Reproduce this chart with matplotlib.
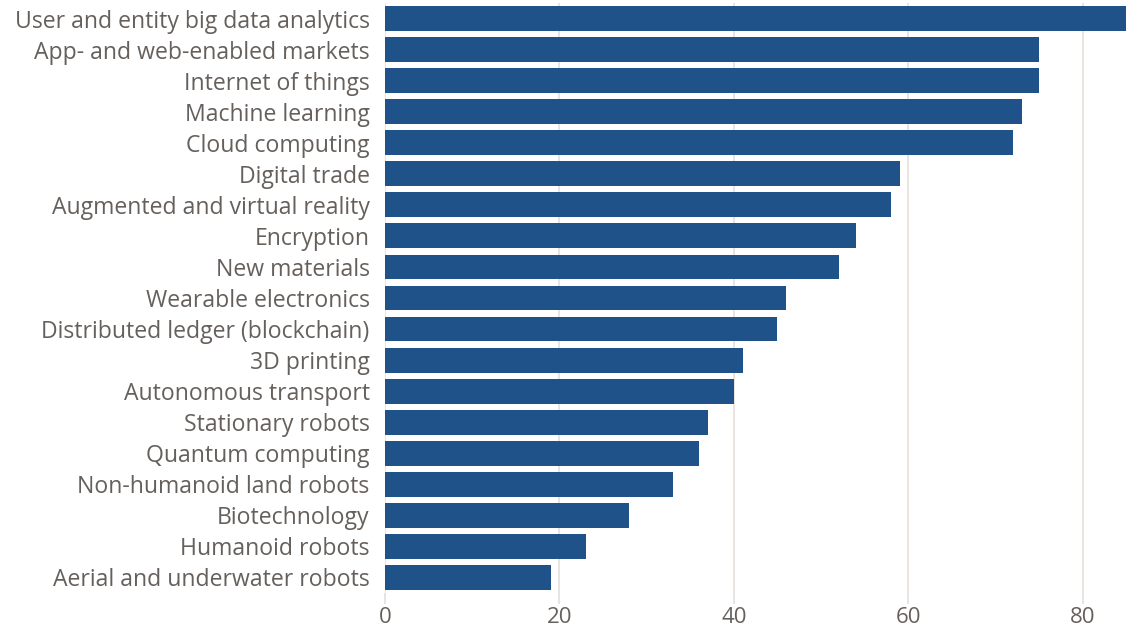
import matplotlib
matplotlib.use("Agg")
import matplotlib.pyplot as plt

categories = [
    "User and entity big data analytics",
    "App- and web-enabled markets",
    "Internet of things",
    "Machine learning",
    "Cloud computing",
    "Digital trade",
    "Augmented and virtual reality",
    "Encryption",
    "New materials",
    "Wearable electronics",
    "Distributed ledger (blockchain)",
    "3D printing",
    "Autonomous transport",
    "Stationary robots",
    "Quantum computing",
    "Non-humanoid land robots",
    "Biotechnology",
    "Humanoid robots",
    "Aerial and underwater robots",
]
values = [85, 75, 75, 73, 72, 59, 58, 54, 52, 46, 45, 41, 40, 37, 36, 33, 28, 23, 19]
xticks = [0, 20, 40, 60, 80]

plt.rcParams['font.family'] = ['Open Sans', 'DejaVu Sans']

fig = plt.figure(figsize=(11.29, 6.34), dpi=100)
ax = fig.add_axes([385/1129, 41/634, 744/1129, 590/634])

n = len(categories)
ypos = list(range(n))[::-1]
ax.barh(ypos, values, height=0.8, color="#1f5289", zorder=3)

ax.set_xlim(0, 85.3)
ax.set_ylim(-0.5, n - 0.5)
ax.set_yticks(ypos)
ax.set_yticklabels(categories, fontsize=16.6, color="#66605c")
ax.set_xticks(xticks)
ax.set_xticklabels([str(t) for t in xticks], fontsize=16, color="#66605c")
ax.tick_params(axis='y', length=0, pad=11)
ax.tick_params(axis='x', length=8, color="#e6dfda", width=1.2, pad=2)
ax.grid(axis='x', color="#e6dfda", linewidth=1.2, zorder=0)
for s in ax.spines.values():
    s.set_visible(False)

fig.savefig("out.png", dpi=100)
